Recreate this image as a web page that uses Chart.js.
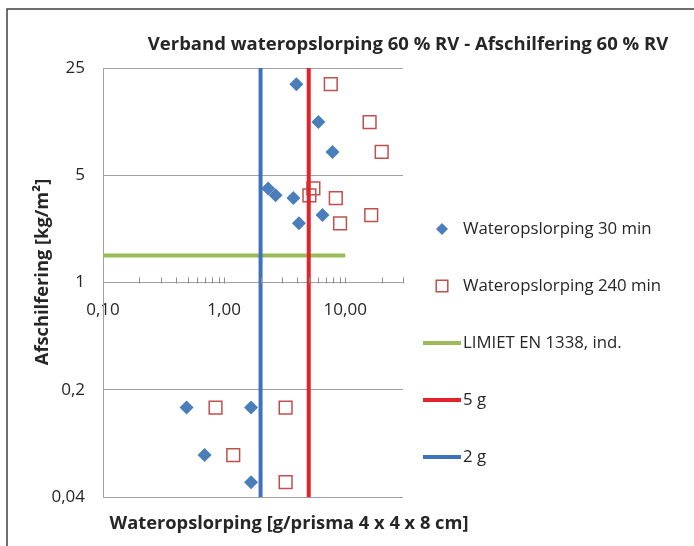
<!DOCTYPE html>
<html>
<head>
<meta charset="utf-8">
<script src="https://cdn.jsdelivr.net/npm/chart.js@4.4.1/dist/chart.umd.min.js"></script>
<style>
  html, body { margin: 0; padding: 0; background: #fff; }
  #wrap { width: 694px; height: 546px; }
</style>
</head>
<body>
<div id="wrap"><canvas id="myChart"></canvas></div>
<script>
// wateropslorping [g/prisma] per proefstuk, na 30 en na 240 min
const opslorping30  = [3.95, 6.0, 7.85, 2.31, 2.66, 3.73, 6.49, 4.15, 0.49, 1.67, 0.69, 1.67];
const opslorping240 = [7.6, 15.9, 20.0, 5.46, 5.06, 8.36, 16.4, 9.07, 0.85, 3.22, 1.19, 3.22];
// afschilfering [kg/m²] van dezelfde proefstukken
const afschilfering = [19.6, 11.1, 7.1, 4.1, 3.7, 3.55, 2.75, 2.43, 0.153, 0.153, 0.075, 0.05];

const limiet = 1.5;          // LIMIET EN 1338, ind.
const limietBereik = [0.1, 10];
const grens5 = 5;
const grens2 = 2;

const yTicks = [0.04, 0.2, 1, 5, 25];
const xTicks = [0.1, 1, 10];
const xMinor = [0.2, 0.3, 0.4, 0.5, 0.6, 0.7, 0.8, 0.9, 1, 2, 3, 4, 5, 6, 7, 8, 9, 10, 20, 30];

const FONT = "'Open Sans', sans-serif";
const TXT = '#262626';
const GRID = '#a0a0a0';

const datasets = [
  {
    label: 'Wateropslorping 30 min',
    data: opslorping30.map((x, i) => ({ x: x, y: afschilfering[i] })),
    pointStyle: 'rectRot',
    pointRadius: 7,
    pointHoverRadius: 7,
    backgroundColor: '#4a7ebb',
    borderColor: '#4a7ebb',
    borderWidth: 0,
    order: 5
  },
  {
    label: 'Wateropslorping 240 min',
    data: opslorping240.map((x, i) => ({ x: x, y: afschilfering[i] })),
    pointStyle: 'rect',
    pointRadius: 9,
    pointHoverRadius: 9,
    backgroundColor: 'rgba(0,0,0,0)',
    borderColor: '#c0504d',
    borderWidth: 1.5,
    order: 4
  },
  {
    label: 'LIMIET EN 1338, ind.',
    data: limietBereik.map(x => ({ x: x, y: limiet })),
    showLine: true,
    borderColor: '#9bbb59',
    borderWidth: 4,
    pointRadius: 0,
    order: 3
  },
  {
    label: '5 g',
    data: [{ x: grens5, y: yTicks[0] }, { x: grens5, y: yTicks[yTicks.length - 1] }],
    showLine: true,
    borderColor: '#e3222a',
    borderWidth: 4,
    pointRadius: 0,
    order: 2
  },
  {
    label: '2 g',
    data: [{ x: grens2, y: yTicks[0] }, { x: grens2, y: yTicks[yTicks.length - 1] }],
    showLine: true,
    borderColor: '#3f72bd',
    borderWidth: 4,
    pointRadius: 0,
    order: 1
  }
];

// titels, kleine streepjes op de x-as, legende en kader
const decor = {
  id: 'decor',
  afterDraw(chart) {
    const ctx = chart.ctx;
    const xs = chart.scales.x, ys = chart.scales.y;
    ctx.save();

    // kader
    ctx.strokeStyle = '#404040';
    ctx.lineWidth = 1.5;
    ctx.strokeRect(7, 9, 720, 600);

    // streepjes op de x-as
    const yAs = ys.getPixelForValue(1);
    ctx.strokeStyle = '#8c8c8c';
    ctx.lineWidth = 1;
    xMinor.forEach(v => {
      const px = Math.round(xs.getPixelForValue(v)) + 0.5;
      ctx.beginPath();
      ctx.moveTo(px, yAs - 5);
      ctx.lineTo(px, yAs + 1);
      ctx.stroke();
    });

    ctx.fillStyle = TXT;
    ctx.textAlign = 'center';
    ctx.textBaseline = 'middle';
    ctx.font = 'bold 18.5px ' + FONT;
    ctx.fillText('Verband wateropslorping 60 % RV - Afschilfering 60 % RV', 408, 45);

    ctx.font = 'bold 18.3px ' + FONT;
    ctx.fillText('Wateropslorping [g/prisma 4 x 4 x 8 cm]', 289, 524);

    ctx.save();
    ctx.translate(43, 272);
    ctx.rotate(-Math.PI / 2);
    ctx.fillText('Afschilfering [kg/m²]', 0, 0);
    ctx.restore();

    // legende
    ctx.textAlign = 'left';
    ctx.font = '16.8px ' + FONT;
    chart.data.datasets.forEach((ds, i) => {
      const cy = 229 + i * 57;
      if (ds.showLine) {
        ctx.strokeStyle = ds.borderColor;
        ctx.lineWidth = ds.borderWidth;
        ctx.beginPath();
        ctx.moveTo(423, cy);
        ctx.lineTo(461, cy);
        ctx.stroke();
      } else {
        ctx.fillStyle = ds.backgroundColor;
        ctx.strokeStyle = ds.borderColor;
        ctx.lineWidth = ds.borderWidth || 0;
        Chart.helpers.drawPoint(ctx, {
          pointStyle: ds.pointStyle,
          radius: ds.pointStyle === 'rect' ? 8.2 : 6,
          borderWidth: ds.borderWidth,
          rotation: 0
        }, 442, cy);
      }
      ctx.fillStyle = TXT;
      ctx.fillText(ds.label, 463, cy);
    });
    ctx.restore();
  }
};

const ctx = document.getElementById('myChart');
new Chart(ctx, {
  type: 'scatter',
  data: { datasets: datasets },
  options: {
    responsive: true,
    maintainAspectRatio: false,
    animation: false,
    layout: { padding: { top: 68, right: 291, bottom: 49, left: 0 } },
    plugins: {
      legend: { display: false },
      tooltip: { enabled: false }
    },
    scales: {
      x: {
        type: 'logarithmic',
        min: 0.1,
        max: 30,
        position: { y: 1 },
        afterBuildTicks: s => { s.ticks = xTicks.map(v => ({ value: v })); },
        ticks: {
          callback: v => v.toFixed(2).replace('.', ','),
          autoSkip: false,
          maxRotation: 0,
          padding: 9,
          color: TXT,
          font: { family: FONT, size: 17 }
        },
        grid: { display: false },
        border: { display: true, color: GRID, width: 1 }
      },
      y: {
        type: 'logarithmic',
        min: yTicks[0],
        max: yTicks[yTicks.length - 1],
        afterBuildTicks: s => { s.ticks = yTicks.map(v => ({ value: v })); },
        afterFit: s => { s.width = 103; },
        ticks: {
          callback: v => String(v).replace('.', ','),
          autoSkip: false,
          padding: 18,
          color: TXT,
          font: { family: FONT, size: 17 }
        },
        grid: { color: GRID, lineWidth: 1, drawTicks: false },
        border: { display: true, color: GRID, width: 1 }
      }
    }
  },
  plugins: [decor]
});
</script>
</body>
</html>
